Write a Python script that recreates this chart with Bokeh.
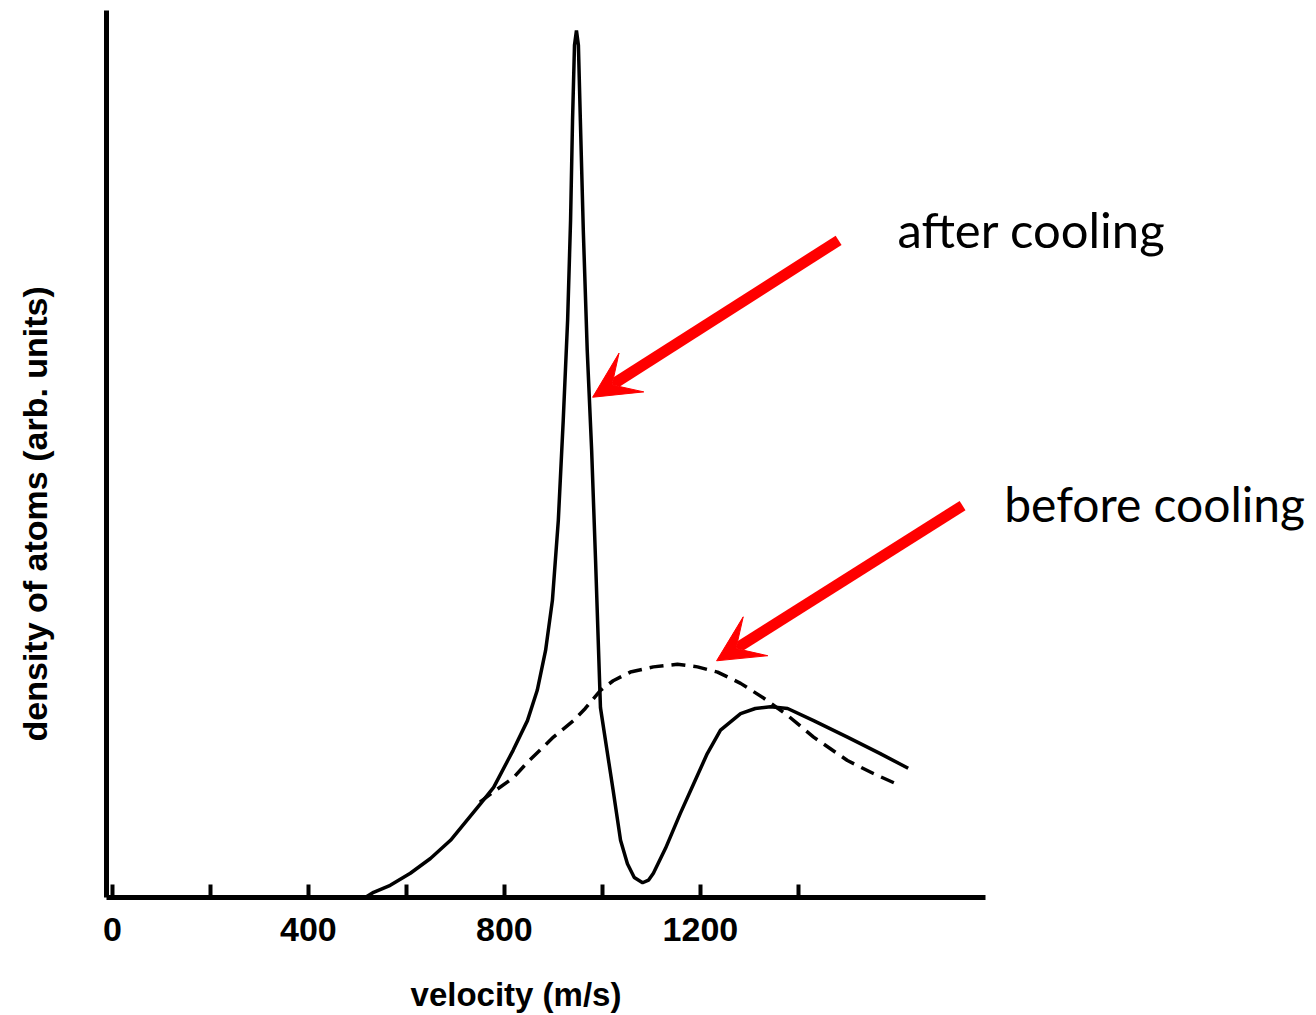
from bokeh.plotting import figure
from bokeh.models import Arrow, VeeHead, Label, FixedTicker, Range1d, LinearAxis
from bokeh.embed import file_html
from bokeh.resources import INLINE

# --- data (velocity in m/s, density in arb. units) ---
after_v = [516, 533, 567, 608, 649, 690, 751, 778, 818, 847, 867, 884, 898, 910, 920,
           929, 935, 939, 943, 947, 951, 955, 961, 969, 978, 986, 996, 1022, 1037,
           1051, 1065, 1082, 1094, 1104, 1129, 1159, 1186, 1214, 1241, 1282, 1312,
           1343, 1378, 1431, 1500, 1567, 1624]
after_d = [0.0, 0.6, 1.4, 2.8, 4.5, 6.6, 10.8, 12.7, 17.0, 20.4, 23.9, 28.5, 34.3,
           43.5, 55.0, 66.6, 78.1, 89.6, 98.3, 100.0, 98.3, 89.6, 76.9, 63.1, 51.6,
           38.9, 21.9, 12.3, 6.6, 3.9, 2.3, 1.7, 2.0, 2.8, 5.7, 9.7, 13.1, 16.6, 19.3,
           21.2, 21.8, 22.0, 21.8, 20.4, 18.5, 16.6, 14.9]

before_v = [750, 778, 818, 847, 900, 941, 965, 996, 1022, 1057, 1104, 1153, 1194,
            1235, 1282, 1329, 1378, 1431, 1500, 1553, 1608]
before_d = [11.0, 12.2, 13.8, 15.6, 18.5, 20.4, 21.8, 23.9, 25.0, 26.0, 26.6, 26.9,
            26.6, 26.0, 24.7, 23.0, 21.0, 18.5, 15.8, 14.3, 12.9]

tick_values = [0, 200, 400, 600, 800, 1000, 1200, 1400]
tick_labels = {0: "0", 200: "", 400: "400", 600: "", 800: "800", 1000: "", 1200: "1200", 1400: ""}
x_bounds = (-12, 1782)
y_bounds = (0, 102.3)

x_label = "velocity  (m/s)"
y_label = "density of atoms  (arb. units)"
series_names = ["after cooling", "before cooling"]

p = figure(width=1316, height=1015, output_backend="svg", toolbar_location=None,
           x_range=Range1d(-228.4, 2457.3), y_range=Range1d(-13.61, 103.46),
           x_axis_type=None, y_axis_type=None,
           min_border=0)
p.grid.visible = False
p.outline_line_color = None
p.background_fill_color = "white"
p.border_fill_color = "white"

p.line(after_v, after_d, line_color="black", line_width=3.5)
p.line(before_v, before_d, line_color="black", line_width=3.5, line_dash="14 8")

# x axis (fixed at density 0)
xa = LinearAxis(fixed_location=0, bounds=x_bounds)
xa.ticker = FixedTicker(ticks=tick_values, minor_ticks=[])
xa.major_label_overrides = tick_labels
xa.axis_line_width = 5
xa.axis_line_color = "black"
xa.major_tick_line_width = 4
xa.major_tick_line_color = "black"
xa.major_tick_in = 13
xa.major_tick_out = 0
xa.minor_tick_line_color = None
xa.major_label_text_font = "Liberation Sans"
xa.major_label_text_font_style = "bold"
xa.major_label_text_font_size = "34px"
xa.major_label_text_color = "black"
xa.major_label_standoff = 20
p.add_layout(xa, "below")

# y axis (fixed at left edge)
ya = LinearAxis(fixed_location=x_bounds[0], bounds=y_bounds)
ya.ticker = FixedTicker(ticks=[], minor_ticks=[])
ya.axis_line_width = 5
ya.axis_line_color = "black"
ya.major_tick_line_color = None
ya.minor_tick_line_color = None
ya.major_label_text_font_size = "0px"
p.add_layout(ya, "left")

# axis titles
p.add_layout(Label(x=833, y=-11.2, text=x_label, text_font="Liberation Sans",
                   text_font_style="bold", text_font_size="33px", text_align="center",
                   text_baseline="alphabetic", text_color="black"))
p.add_layout(Label(x=-159, y=44.8, text=y_label, text_font="Liberation Sans",
                   text_font_style="bold", text_font_size="34px", text_align="center",
                   text_baseline="middle", angle=90, angle_units="deg", text_color="black"))

# annotations
p.add_layout(Label(x=1602, y=77.1, text=series_names[0], text_font="Lato",
                   text_font_size="49px", text_align="left", text_baseline="alphabetic",
                   text_color="black"))
p.add_layout(Label(x=1820, y=45.5, text=series_names[1], text_font="Lato",
                   text_font_size="48px", text_align="left", text_baseline="alphabetic",
                   text_color="black"))

for (xs, ys, xe, ye) in [(1482, 75.8, 980, 57.7), (1735, 45.2, 1233, 27.3)]:
    p.add_layout(Arrow(x_start=xs, y_start=ys, x_end=xe, y_end=ye,
                       line_color="#ff0000", line_width=11,
                       end=VeeHead(size=46, fill_color="#ff0000", line_color="#ff0000",
                                   line_width=1)))

open("out.html", "w").write(file_html(p, INLINE))
